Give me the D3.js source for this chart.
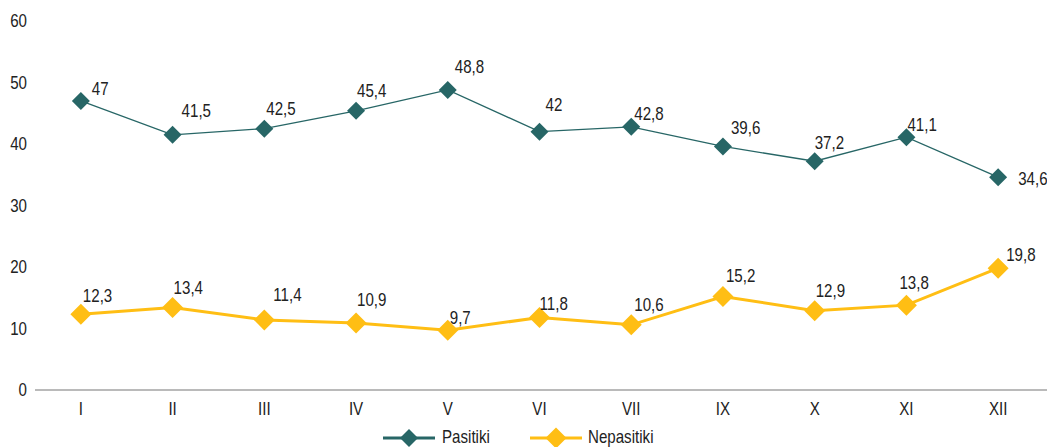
<!DOCTYPE html>
<html>
<head>
<meta charset="utf-8">
<script src="https://cdn.jsdelivr.net/npm/d3@7/dist/d3.min.js"></script>
<style>
  html, body { margin: 0; padding: 0; background: #fff; }
  svg text { font-family: "Liberation Sans", Arial, sans-serif; fill: #222; }
</style>
</head>
<body>
<svg id="chart" width="1047" height="447"></svg>
<script>
// Months (Roman numerals) and the two series
const months = ["I", "II", "III", "IV", "V", "VI", "VII", "IX", "X", "XI", "XII"];
const pasitiki = [47, 41.5, 42.5, 45.4, 48.8, 42, 42.8, 39.6, 37.2, 41.1, 34.6];
const nepasitiki = [12.3, 13.4, 11.4, 10.9, 9.7, 11.8, 10.6, 15.2, 12.9, 13.8, 19.8];
const yTicks = [0, 10, 20, 30, 40, 50, 60];
const seriesNames = ["Pasitiki", "Nepasitiki"];

// Per-point label nudges [dx, dy] relative to each marker
const nudgeA = [[11,-12],[9,-24],[2,-20],[1,-20],[7,-23],[6,-27],[3,-13],[8,-19],[0,-19],[1,-13],[20,1]];
const nudgeB = [[2,-19],[1,-20],[9,-25],[1,-23],[2,-13],[0,-14],[3,-20],[3,-21],[1,-20],[-7,-23],[8,-14]];

const FONT_SIZE = 18;
const SQUEEZE = 0.84; // horizontal condensing of the sans face

const svg = d3.select("#chart");
const x = d3.scaleBand().domain(months).range([35, 1044]);
const y = d3.scaleLinear().domain([0, 60]).range([390, 21]);
const cx = m => x(m) + x.bandwidth() / 2;
const fmt = v => String(v).replace(".", ",");
const diamond = r => `M0,${-r}L${r},0L0,${r}L${-r},0Z`;

// place a condensed text label at (px, py)
function label(parent, px, py, str, anchor) {
  return parent.append("text")
    .attr("transform", `translate(${px},${py}) scale(${SQUEEZE},1)`)
    .attr("dy", "0.36em")
    .attr("text-anchor", anchor || "start")
    .attr("font-size", FONT_SIZE)
    .text(str);
}

// y-axis tick labels (no axis line)
const yg = svg.append("g");
yTicks.forEach(t => label(yg, 27, y(t), t, "end"));

// x axis baseline and labels
const xAxis = svg.append("g").attr("transform", `translate(0,${y(0)})`)
  .call(d3.axisBottom(x).tickSize(0).tickFormat(""));
xAxis.select(".domain").attr("stroke", "#a3a3a3").attr("stroke-width", 1.5)
  .attr("d", "M35,0H1047");
const xl = svg.append("g");
months.forEach(m => label(xl, cx(m), 409, m, "middle"));

const series = [
  { name: seriesNames[0], values: pasitiki, color: "#276666", width: 1.3, r: 9, nudge: nudgeA },
  { name: seriesNames[1], values: nepasitiki, color: "#ffbe14", width: 3, r: 10.5, nudge: nudgeB }
];

series.forEach(s => {
  const pts = months.map((m, i) => [cx(m), y(s.values[i])]);
  svg.append("path").datum(pts)
    .attr("d", d3.line())
    .attr("fill", "none").attr("stroke", s.color).attr("stroke-width", s.width);
  svg.append("g").selectAll("path").data(pts).join("path")
    .attr("transform", d => `translate(${d[0]},${d[1]})`)
    .attr("d", diamond(s.r)).attr("fill", s.color);
  const lg = svg.append("g");
  pts.forEach((d, i) => label(lg, d[0] + s.nudge[i][0], d[1] + s.nudge[i][1], fmt(s.values[i])));
});

// legend
const legendPos = [[383, 442], [530, 588]];
series.forEach((s, i) => {
  const [lx, tx] = legendPos[i];
  const g = svg.append("g");
  g.append("line").attr("x1", lx).attr("x2", lx + 52).attr("y1", 438).attr("y2", 438)
    .attr("stroke", s.color).attr("stroke-width", 3);
  g.append("path").attr("transform", `translate(${lx + 26},438)`)
    .attr("d", diamond(s.r)).attr("fill", s.color);
  label(g, tx, 437, s.name);
});
</script>
</body>
</html>
